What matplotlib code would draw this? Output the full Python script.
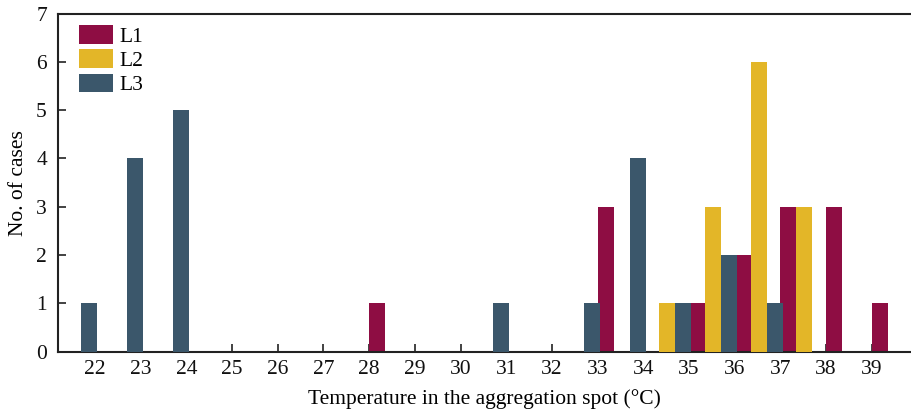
import matplotlib
matplotlib.use("Agg")
import matplotlib.pyplot as plt
import numpy as np

plt.rcParams['font.family'] = ['Liberation Serif', 'DejaVu Serif']

# bin start temperatures (°C) and counts per series
l1_temp = [28, 33, 35, 36, 37, 38, 39]
l1_count = [1, 3, 1, 2, 3, 3, 1]
l2_temp = [34, 35, 36, 37]
l2_count = [1, 3, 6, 3]
l3_temp = [21, 22, 23, 30, 32, 33, 34, 35, 36]
l3_count = [1, 4, 5, 1, 1, 4, 1, 2, 1]

series = [("L1", l1_temp, l1_count, "#8E0D43"),
          ("L2", l2_temp, l2_count, "#E3B628"),
          ("L3", l3_temp, l3_count, "#3B576B")]
xticks = list(range(22, 40))

fig = plt.figure(figsize=(9.12, 4.11), dpi=100)
ax = fig.add_axes([0.0636, 0.1443, 0.9354, 0.8227])

w = 0.35
for i, (name, t, c, col) in enumerate(series):
    ax.bar(np.array(t) + i * w, c, width=w, align='edge', color=col,
           label=name, zorder=2 + i)

ax.set_xlim(21.19, 39.86)
ax.set_ylim(0, 7)
ax.set_xticks(xticks)
ax.set_yticks(range(0, 8))
ax.tick_params(direction='in', length=6, width=1.2, labelsize=15.5, colors='#222222',
               labelcolor='#111111', pad=6)
ax.tick_params(axis='y', pad=8)
for s in ['right']:
    ax.spines[s].set_visible(False)
for s in ['left', 'bottom', 'top']:
    ax.spines[s].set_linewidth(1.5)
    ax.spines[s].set_color('#222222')

ax.set_xlabel("Temperature in the aggregation spot (°C)", fontsize=15.5, labelpad=7)
ax.set_ylabel("No. of cases", fontsize=15.5, labelpad=6)

leg = ax.legend(loc='upper left', frameon=False, fontsize=15.5,
                handlelength=1.58, handleheight=0.95, handletextpad=0.3,
                labelspacing=0.12, borderaxespad=0, borderpad=0,
                bbox_to_anchor=(0.0246, 0.966))

fig.savefig("out.png", dpi=100)
